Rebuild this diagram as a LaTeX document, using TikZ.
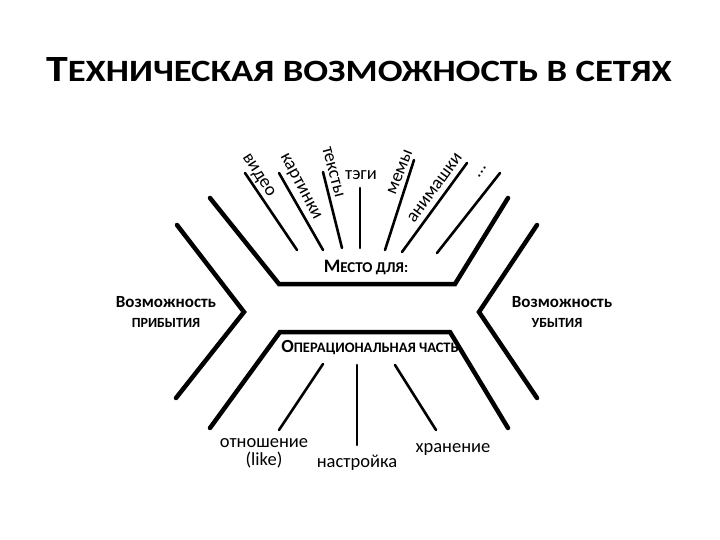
\documentclass[tikz,border=0pt]{standalone}
\usepackage{graphicx}
\usepackage{fontspec}
\setmainfont{Carlito}
\newcommand{\fsz}[1]{\fontsize{#1}{#1}\selectfont}
\tikzset{rim/.style={line width=4.5pt, line cap=round, line join=miter},
    ray/.style={line width=2.6pt, line cap=round},
    lbl/.style={inner sep=0pt, font=\fsz{18.5}},
    bld/.style={anchor=base, inner sep=0pt, font=\bfseries}}

\begin{document}
\begin{tikzpicture}
		[x=1pt, y=-1pt]
		\useasboundingbox (0,0) rectangle (720,540);
		%		title
		\node[bld] (title) at (359,82){\scalebox{1.185}[1]{{\fsz{37}Т}{\fsz{31}ЕХНИЧЕСКАЯ ВОЗМОЖНОСТЬ В СЕТЯХ}}};
		% outline
		\coordinate (lt) at (177,225);
		\coordinate (lv) at (244,312);
		\coordinate (lb) at (176,398);
		\coordinate (rt) at (537,225);
		\coordinate (rv) at (479,312);
		\coordinate (rb) at (537,398);
		\coordinate (ua) at (210,198);
		\coordinate (ub) at (279,284);
		\coordinate (uc) at (455,284);
		\coordinate (ud) at (508,198);
		\coordinate (da) at (210,428);
		\coordinate (db) at (280,332);
		\coordinate (dc) at (450,332);
		\coordinate (dd) at (508,428);
		\draw[rim] (lt) -- (lv) -- (lb);
		\draw[rim] (rt) -- (rv) -- (rb);
		\draw[rim] (ua) -- (ub) -- (uc) -- (ud);
		\draw[rim] (da) -- (db) -- (dc) -- (dd);
		% upper rays
		\coordinate (v1) at (245,173);   \coordinate (v2) at (297,250);
		\coordinate (k1) at (279,173);   \coordinate (k2) at (323,250);
		\coordinate (t1) at (323,172);   \coordinate (t2) at (342,248);
		\coordinate (g1) at (360,188);   \coordinate (g2) at (360,248);
		\coordinate (m1) at (414,160);   \coordinate (m2) at (385,250);
		\coordinate (a1) at (467,163);   \coordinate (a2) at (402,252);
		\coordinate (e1) at (500,173);   \coordinate (e2) at (437,253);
		\draw[ray] (v1) -- (v2);
		\draw[ray] (k1) -- (k2);
		\draw[ray] (t1) -- (t2);
		\draw[ray] (g1) -- (g2);
		\draw[ray] (m1) -- (m2);
		\draw[ray] (a1) -- (a2);
		\draw[ray] (e1) -- (e2);
		\node[lbl, rotate=-57] (video) at (258,176){видео};
		\node[lbl, rotate=-62] (kart) at (300,187){картинки};
		\node[lbl, rotate=-75] (teksty) at (333,172){тексты};
		\node[lbl] (tegi) at (361,175){тэги};
		\node[lbl, rotate=68] (memy) at (400,172){мемы};
		\node[lbl, rotate=54] (anim) at (435,188){анимашки};
		\node[lbl, rotate=55] (dots) at (482,172){...};
		% middle texts
		\node[bld] (mesto) at (366,272){{\fsz{19}М}{\fsz{15}ЕСТО ДЛЯ:}};
		\node[bld] (oper) at (370,352){{\fsz{18.5}О}{\fsz{14.5}ПЕРАЦИОНАЛЬНАЯ ЧАСТЬ}};
		\node[bld, font=\bfseries\fsz{17}] (vozl) at (166,307){Возможность};
		\node[bld, font=\bfseries\fsz{14}] (prib) at (166,327){ПРИБЫТИЯ};
		\node[bld, font=\bfseries\fsz{17}] (vozr) at (562,307){Возможность};
		\node[bld, font=\bfseries\fsz{14}] (ubyt) at (557,327){УБЫТИЯ};
		% lower rays
		\coordinate (o1) at (323,364);   \coordinate (o2) at (279,430);
		\coordinate (n1) at (357,365);   \coordinate (n2) at (357,445);
		\coordinate (h1) at (395,365);   \coordinate (h2) at (436,430);
		\draw[ray] (o1) -- (o2);
		\draw[ray] (n1) -- (n2);
		\draw[ray] (h1) -- (h2);
		\node[lbl, anchor=base] (otn) at (264,447){отношение};
		\node[lbl, anchor=base] (like) at (264,465){(like)};
		\node[lbl, anchor=base] (nastr) at (357,467){настройка};
		\node[lbl, anchor=base] (hran) at (453,452){хранение};
		\end{tikzpicture}
\end{document}
